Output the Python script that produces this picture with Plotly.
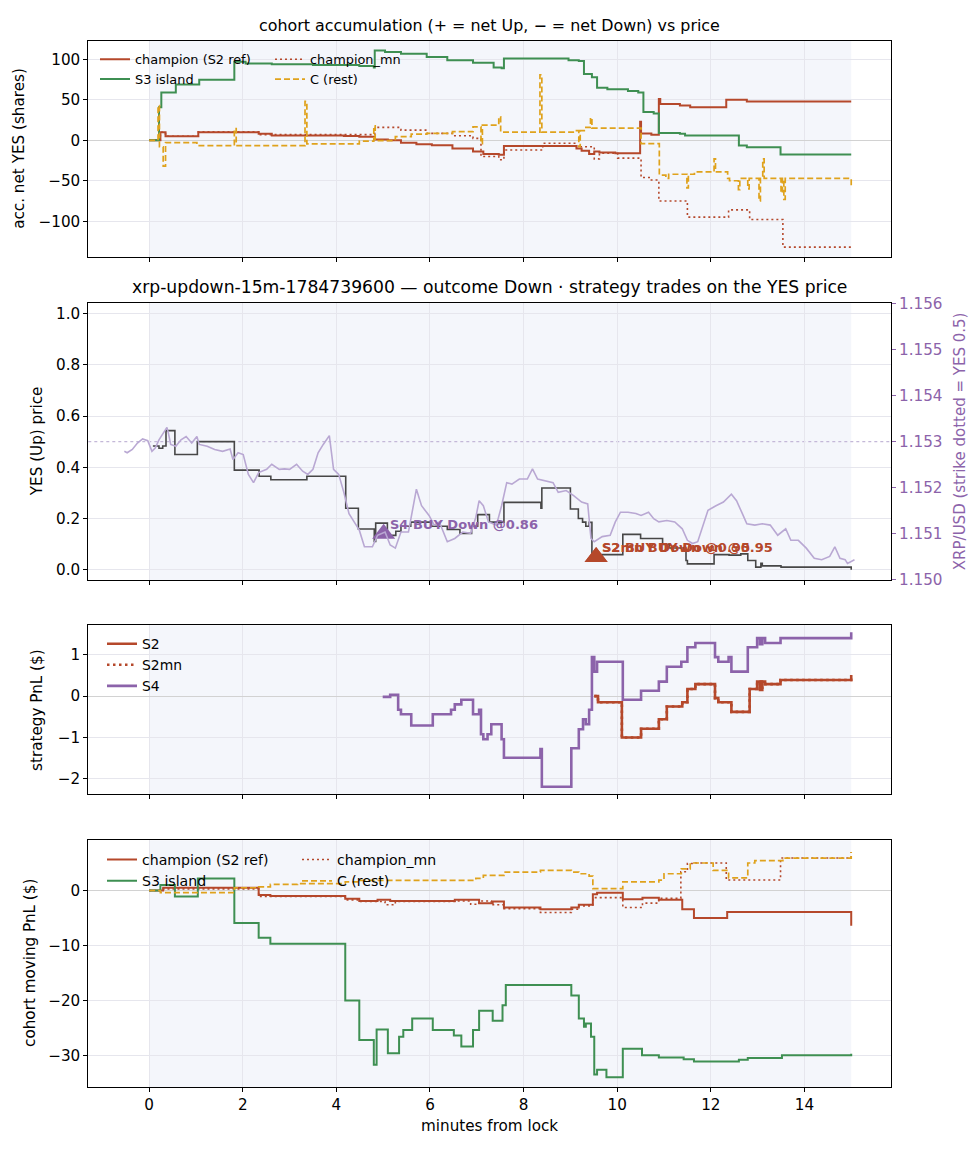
import plotly.graph_objects as go

### keep the data up here: minutes from lock + value (step series) ###

# panel 1: accumulated net YES shares per cohort
acc_champ_t = [0, 0.24, 0.35, 1.05, 2.34, 2.62, 4.16, 4.49, 4.82, 5.10, 5.38, 5.71, 6.04, 6.48, 6.92, 7.14, 7.47,
               7.58, 9.13, 9.24, 9.40, 9.51, 9.62, 9.96, 10.49, 10.51, 10.73, 10.89, 10.92, 11.34, 11.56, 12.33,
               12.77, 15.0]
acc_champ = [0, 10, 5, 10, 8, 6, 5.3, 4.5, 1, 0, -3, -5, -6, -10, -14, -17, -18,
             -7, -10, -13, -17, -14, -15, -16, 23, 8.5, 7, 51, 45, 43, 41, 50,
             48, 48]

acc_mn_t = [0, 0.24, 0.35, 1.05, 2.34, 4.82, 5.38, 5.93, 6.48, 6.92, 7.09, 7.47, 7.58, 8.41, 9.13, 9.51, 9.62,
            10.01, 10.51, 10.73, 10.89, 11.50, 12.38, 12.83, 13.54, 15.0]
acc_mn = [0, 10, 5, 10.6, 7, 16, 12.6, 8.5, 5.7, 2.4, -20, -24, -12, -3.7, -8, -23, -16,
          -22, -46, -49, -75, -95, -86, -98, -132, -132]

acc_s3_t = [0, 0.21, 0.26, 0.57, 1.07, 1.82, 2.06, 2.62, 3.5, 4.49, 4.80, 4.82, 5.04, 5.38, 5.93, 6.37, 6.92,
            7.36, 7.53, 7.58, 8.96, 9.18, 9.29, 9.46, 9.57, 9.79, 10.23, 10.45, 10.56, 10.78, 10.89, 11.34,
            11.45, 12.60, 12.77, 13.49, 15.0]
acc_s3 = [0, 41, 59, 69, 75, 97, 95, 94, 93, 92, 90, 111, 109, 107, 103, 99, 96,
          90, 89, 101, 99, 98, 82, 78, 65, 63, 61, 59, 35, 33, 9, 8,
          6, -6.5, -8.5, -17.5, -17.5]

acc_c_t = [0, 0.19, 0.22, 0.30, 0.35, 1.02, 1.82, 1.86, 3.33, 3.37, 4.49, 4.80, 4.83, 5.26, 5.60, 5.93, 6.48,
           6.92, 7.09, 7.12, 7.47, 7.51, 8.35, 8.39, 9.13, 9.18, 9.21, 9.33, 9.43, 9.46, 10.51, 10.90, 11.04,
           11.10, 11.49, 11.52, 11.65, 12.07, 12.10, 12.36, 12.40, 12.59, 12.62, 12.79, 12.82, 13.03, 13.06,
           13.11, 13.14, 13.50, 13.53, 13.56, 13.59, 15.0]
acc_c = [0, 43, -8, -32, -3, -6.5, 14.6, -6.5, 48, -4.5, -1, 18, -0.4, 4.5, 7.7, 8.5, 10.6,
         16.7, -4, 18.7, 29, 10, 81, 10, 12, -8, 12, 16, 28, 15, -4, -43, -47,
         -42, -59, -42, -39, -23, -39, -47, -50, -61, -47, -60, -47, -75, -47,
         -23, -47, -65, -47, -73, -47, -58]

# panel 2: YES (Up) price + XRP/USD spot
yes_t = [0.08, 0.21, 0.29, 0.36, 0.55, 1.03, 1.82, 2.35, 2.60, 3.37, 4.20, 4.47, 4.81, 4.84, 5.09, 5.27, 5.38,
         5.59, 6.03, 6.37, 6.64, 6.89, 7.02, 7.27, 7.58, 8.37, 8.39, 9.00, 9.17, 9.26, 9.33, 9.40, 9.46, 10.12,
         10.50, 10.97, 11.11, 11.47, 11.50, 12.07, 12.39, 12.64, 12.79, 12.96, 13.07, 13.10, 13.50, 15.0]
yes_px = [0.483, 0.474, 0.483, 0.543, 0.45, 0.50, 0.389, 0.365, 0.351, 0.365, 0.24, 0.159, 0.11, 0.182, 0.134,
          0.15, 0.17, 0.186, 0.17, 0.157, 0.142, 0.17, 0.215, 0.186, 0.263, 0.24, 0.319, 0.237, 0.2, 0.186,
          0.17, 0.185, 0.059, 0.138, 0.122, 0.099, 0.085, 0.036, 0.023, 0.059, 0.057, 0.062, 0.036, 0.01,
          0.025, 0.015, 0.01, 0.0]

xrp_t = [-0.53, -0.47, -0.36, -0.25, -0.14, -0.03, 0.06, 0.13, 0.21, 0.30, 0.38, 0.41, 0.46, 0.57, 0.68, 0.79,
         0.91, 1.02, 1.07, 1.24, 1.40, 1.57, 1.73, 1.79, 1.90, 2.01, 2.12, 2.23, 2.34, 2.51, 2.62, 2.78, 2.89,
         3.00, 3.15, 3.28, 3.39, 3.50, 3.61, 3.72, 3.85, 3.94, 4.05, 4.16, 4.27, 4.38, 4.49, 4.60, 4.77, 4.88,
         5.04, 5.15, 5.26, 5.38, 5.54, 5.71, 5.82, 5.98, 6.09, 6.20, 6.37, 6.53, 6.70, 6.87, 6.98, 7.05, 7.14,
         7.25, 7.42, 7.53, 7.64, 7.75, 7.91, 8.08, 8.19, 8.30, 8.47, 8.63, 8.74, 8.91, 9.07, 9.24, 9.37, 9.44,
         9.51, 9.68, 9.85, 9.96, 10.07, 10.23, 10.40, 10.51, 10.67, 10.78, 10.89, 11.06, 11.23, 11.39, 11.50,
         11.61, 11.72, 11.83, 11.94, 12.11, 12.27, 12.44, 12.55, 12.66, 12.77, 12.94, 13.10, 13.27, 13.43,
         13.60, 13.71, 13.87, 14.04, 14.21, 14.37, 14.54, 14.65, 14.76, 14.87, 14.92, 15.07]
xrp_usd = [1.15279, 1.15276, 1.15283, 1.15297, 1.15306, 1.15302, 1.15279, 1.15286, 1.15304, 1.15319, 1.15331,
           1.15319, 1.15294, 1.15290, 1.15304, 1.15311, 1.15297, 1.15311, 1.15294, 1.15290, 1.15283, 1.15279,
           1.15284, 1.15261, 1.15276, 1.15272, 1.15229, 1.15211, 1.15233, 1.15240, 1.15251, 1.15240, 1.15241,
           1.15240, 1.15251, 1.15236, 1.15229, 1.15240, 1.15276, 1.15294, 1.15313, 1.15240, 1.15229, 1.15190,
           1.15144, 1.15126, 1.15108, 1.15072, 1.15072, 1.15097, 1.15104, 1.15076, 1.15069, 1.15104, 1.15104,
           1.15197, 1.15161, 1.15140, 1.15119, 1.15126, 1.15083, 1.15090, 1.15104, 1.15101, 1.15136, 1.15172,
           1.15161, 1.15126, 1.15119, 1.15161, 1.15211, 1.15208, 1.15219, 1.15219, 1.15241, 1.15219, 1.15215,
           1.15211, 1.15190, 1.15194, 1.15183, 1.15169, 1.15165, 1.15090, 1.15083, 1.15094, 1.15097, 1.15126,
           1.15147, 1.15147, 1.15144, 1.15140, 1.15147, 1.15133, 1.15126, 1.15129, 1.15126, 1.15111, 1.15086,
           1.15079, 1.15083, 1.15119, 1.15151, 1.15161, 1.15169, 1.15186, 1.15172, 1.15147, 1.15122, 1.15119,
           1.15122, 1.15119, 1.15097, 1.15111, 1.15086, 1.15086, 1.15069, 1.15047, 1.15044, 1.15051, 1.15072,
           1.15047, 1.15044, 1.15036, 1.15044]
strike_usd = 1.153      # strike is drawn where YES = 0.5
strike_yes = 0.5

# strategy entries (YES price = 1 - Down price)
trade_names = ["S4", "S2", "S2mn"]
trade_t = [5.01, 9.55, 9.55]
trade_yes = [0.14, 0.05, 0.05]
trade_labels = ["S4 BUY Down @0.86", "S2 BUY Down @0.95", "S2mn BUY Down @0.95"]

# panel 3: strategy PnL ($)
pnl_s2_t = [9.51, 9.59, 10.10, 10.51, 10.89, 11.06, 11.39, 11.50, 11.67, 12.09, 12.16, 12.44, 12.83, 12.99, 13.05,
            13.10, 13.16, 13.49, 15.0]
pnl_s2 = [0, -0.15, -1.0, -0.79, -0.56, -0.25, -0.15, 0.17, 0.29, -0.05, -0.15, -0.38, 0.17, 0.35, 0.15,
          0.35, 0.29, 0.39, 0.51]
pnl_s2mn_t = pnl_s2_t          # S2mn sits right under S2
pnl_s2mn = pnl_s2
pnl_s4_t = [4.99, 5.15, 5.32, 5.38, 5.60, 6.06, 6.45, 6.53, 6.67, 6.92, 7.05, 7.09, 7.14, 7.23, 7.31, 7.53, 7.58,
            8.36, 8.39, 9.02, 9.18, 9.27, 9.33, 9.40, 9.46, 9.51, 9.57, 10.12, 10.51, 10.89, 11.06, 11.37,
            11.50, 11.67, 12.09, 12.16, 12.38, 12.44, 12.79, 12.99, 13.05, 13.10, 13.16, 13.49, 15.0]
pnl_s4 = [-0.02, 0.03, -0.33, -0.44, -0.71, -0.44, -0.33, -0.2, -0.09, -0.44, -0.33, -0.92, -1.04, -0.92, -0.68,
          -1.04, -1.49, -1.28, -2.19, -1.26, -0.8, -0.56, -0.68, -0.33, 0.94, 0.59, 0.83, -0.09, 0.13, 0.35,
          0.71, 0.83, 1.18, 1.28, 0.94, 0.83, 0.94, 0.59, 1.18, 1.4, 1.25, 1.4, 1.28, 1.4, 1.54]

# panel 4: cohort moving PnL ($)
mpnl_champ_t = [0, 0.30, 2.34, 2.59, 4.19, 4.49, 4.88, 5.15, 6.53, 7.05, 7.34, 7.58, 8.36, 9.02, 9.18, 9.48,
                9.57, 10.12, 10.54, 10.89, 11.39, 11.64, 12.35, 15.0]
mpnl_champ = [0, 0.5, -0.8, -1.0, -1.5, -1.9, -1.7, -1.9, -1.7, -2.3, -2.0, -3.1, -3.4, -3.1, -2.6, -0.7,
              -0.4, -1.6, -1.3, -1.7, -3.4, -5.0, -3.9, -6.4]
mpnl_mn_t = [0, 0.30, 2.34, 4.19, 4.49, 5.04, 5.26, 6.53, 6.87, 7.05, 7.31, 7.58, 8.36, 9.02, 9.18, 9.48, 10.12,
             10.54, 10.89, 11.36, 11.50, 11.67, 12.33, 13.49, 15.0]
mpnl_mn = [0, 0.3, -1.1, -1.7, -2.0, -2.6, -2.0, -1.9, -2.5, -1.9, -2.6, -3.3, -4.0, -3.4, -2.8, -1.3, -3.1,
           -2.3, -1.4, 3.4, 4.9, 5.0, 1.9, 5.9, 7.0]
mpnl_s3_t = [0, 0.24, 0.55, 1.04, 1.82, 2.34, 2.59, 4.19, 4.49, 4.80, 4.86, 5.10, 5.34, 5.43, 5.62, 6.06, 6.51,
             6.67, 6.92, 7.05, 7.34, 7.55, 7.62, 9.02, 9.18, 9.29, 9.33, 9.44, 9.51, 9.57, 9.77, 10.12, 10.53,
             10.89, 11.42, 11.64, 12.60, 12.79, 13.52, 15.0]
mpnl_s3 = [0, 1, -1.1, 2.2, -5.9, -8.6, -9.7, -20, -27.2, -31.7, -25.3, -29.6, -26.6, -25.4, -23.3, -25.4, -26.4,
           -28.4, -25.4, -21.9, -23.7, -20.9, -17.2, -19.1, -23.3, -24.8, -24.2, -26.6, -33.5, -32.6, -34, -28.8,
           -30, -30.4, -30.7, -31.1, -30.8, -30.5, -30, -29.7]
mpnl_c_t = [0, 0.24, 1.82, 2.34, 2.59, 3.17, 4.19, 4.49, 6.98, 7.14, 7.58, 8.36, 9.02, 9.18, 9.40, 9.48, 10.12,
            10.89, 11.00, 11.37, 11.56, 12.05, 12.38, 12.79, 12.94, 13.54, 15.0]
mpnl_c = [0, -0.4, 0.5, 0.65, 1.1, 1.25, 1.55, 1.85, 2.2, 2.75, 3.35, 3.65, 3.35, 3.05, 2.6, 0.35, 1.55,
          1.9, 3.05, 3.95, 5.0, 3.65, 2.3, 5.0, 5.45, 5.9, 7.0]

# colours
RED = "#b5482b"
GREEN = "#3e8f52"
GOLD = "#dfa21c"
PURPLE = "#8c63aa"
XRP_COL = "#b9a8d3"
FONT = "DejaVu Sans"
W, H = 978, 1156


def xpaper(px):
    # pixel column -> paper coordinate
    return px / W


def ypaper(py):
    # pixel row (from top) -> paper coordinate
    return 1 - py / H


def step(t, y, name, color, width, dash, n, legend, showlegend=True):
    return go.Scatter(x=t, y=y, mode="lines", name=name,
                      line=dict(shape="hv", color=color, width=width, dash=dash),
                      xaxis="x" if n == 1 else "x%d" % n, yaxis="y" if n == 1 else "y%d" % n,
                      legend=legend, showlegend=showlegend, hoverinfo="skip")


fig = go.Figure()

# panel 1 - accumulation
fig.add_trace(step(acc_champ_t, acc_champ, "champion (S2 ref)", RED, 2, "solid", 1, "legend"))
fig.add_trace(step(acc_mn_t, acc_mn, "champion_mn", RED, 1.6, "2px,3px", 1, "legend2"))
fig.add_trace(step(acc_s3_t, acc_s3, "S3 island", GREEN, 2, "solid", 1, "legend"))
fig.add_trace(step(acc_c_t, acc_c, "C (rest)", GOLD, 1.7, "6px,3px", 1, "legend2"))

# panel 2 - price + XRP spot on the right axis
fig.add_trace(go.Scatter(x=xrp_t, y=xrp_usd, mode="lines", line=dict(color=XRP_COL, width=1.6),
                         xaxis="x2", yaxis="y5", showlegend=False, hoverinfo="skip"))
fig.add_trace(go.Scatter(x=yes_t, y=yes_px, mode="lines", line=dict(shape="hv", color="#474747", width=1.6),
                         xaxis="x2", yaxis="y2", showlegend=False, hoverinfo="skip"))
trade_cols = [PURPLE, RED, RED]
fig.add_trace(go.Scatter(x=trade_t, y=trade_yes, mode="markers", text=trade_names,
                         marker=dict(symbol="triangle-up", size=20, color=trade_cols),
                         xaxis="x2", yaxis="y2", showlegend=False, hoverinfo="skip"))

# panel 3 - strategy PnL
fig.add_trace(step(pnl_s2_t, pnl_s2, "S2", RED, 2.6, "solid", 3, "legend3"))
fig.add_trace(step(pnl_s2mn_t, pnl_s2mn, "S2mn", RED, 2.6, "2.5px,3.5px", 3, "legend3"))
fig.add_trace(step(pnl_s4_t, pnl_s4, "S4", PURPLE, 2.6, "solid", 3, "legend3"))

# panel 4 - cohort moving PnL
fig.add_trace(step(mpnl_champ_t, mpnl_champ, "champion (S2 ref)", RED, 2, "solid", 4, "legend4"))
fig.add_trace(step(mpnl_mn_t, mpnl_mn, "champion_mn", RED, 1.6, "2px,3px", 4, "legend5"))
fig.add_trace(step(mpnl_s3_t, mpnl_s3, "S3 island", GREEN, 2, "solid", 4, "legend4"))
fig.add_trace(step(mpnl_c_t, mpnl_c, "C (rest)", GOLD, 1.7, "6px,3px", 4, "legend5"))

# axes --------------------------------------------------------------
xdom = [xpaper(88.3), xpaper(891)]
base = dict(showline=True, linecolor="black", linewidth=1, mirror=True, ticks="outside", ticklen=4,
            tickwidth=1, tickcolor="black", showgrid=True, gridcolor="#e6e6ed", gridwidth=0.8,
            zeroline=False, tickfont=dict(size=15.2, color="black"))
panels = {1: (32.3, 251.7), 2: (299, 580), 3: (626, 797.7), 4: (844.3, 1095)}
for n, (top, bot) in panels.items():
    sx = "" if n == 1 else str(n)
    fig.layout["xaxis" + sx] = dict(base, domain=xdom, anchor="y" + sx, range=[-1.3, 15.85],
                                    tick0=0, dtick=2, showticklabels=(n == 4))
    fig.layout["yaxis" + sx] = dict(base, domain=[ypaper(bot), ypaper(top)], anchor="x" + sx)

fig.layout.yaxis.update(range=[-144, 123], tickvals=[-100, -50, 0, 50, 100],
                        zeroline=True, zerolinecolor="#d2d2d2", zerolinewidth=1.2)
fig.layout.yaxis2.update(range=[-0.04, 1.04], dtick=0.2, tickformat=".1f")
fig.layout.yaxis3.update(range=[-2.37, 1.71], dtick=1,
                         zeroline=True, zerolinecolor="#d2d2d2", zerolinewidth=1.2)
fig.layout.yaxis4.update(range=[-35.75, 9.16], dtick=10,
                         zeroline=True, zerolinecolor="#d2d2d2", zerolinewidth=1.2)
fig.layout.yaxis5 = dict(overlaying="y2", side="right", anchor="x2", range=[1.150, 1.156], dtick=0.001,
                         tickformat=".3f", showgrid=False, zeroline=False, showline=False,
                         ticks="outside", ticklen=4, tickcolor=PURPLE,
                         tickfont=dict(size=15.2, color=PURPLE))

# shaded lock window (0..15 min) + strike line
shapes = []
for n in range(1, 5):
    sx = "" if n == 1 else str(n)
    shapes.append(dict(type="rect", xref="x" + sx, yref="y" + sx + " domain", x0=0, x1=15, y0=0, y1=1,
                       fillcolor="#f4f6fb", line=dict(width=0), layer="below"))
shapes.append(dict(type="line", xref="x2 domain", yref="y2", x0=0, x1=1, y0=strike_yes, y1=strike_yes,
                   line=dict(color="#c4b8d8", width=1.2, dash="dot"), layer="below"))

# text: titles, axis labels, trade labels
ann = []
xmid = (xdom[0] + xdom[1]) / 2
ann.append(dict(text="cohort accumulation (+ = net Up, \u2212 = net Down) vs price", x=xmid, y=ypaper(17),
                font=dict(size=15.9)))
ann.append(dict(text="xrp-updown-15m-1784739600 \u2014 outcome Down \u00b7 strategy trades on the YES price",
                x=xmid, y=ypaper(282), font=dict(size=17.2)))
ann.append(dict(text="minutes from lock", x=xmid, y=ypaper(1135), font=dict(size=15.2)))
ylabels = [("acc. net YES (shares)", 19, 142), ("YES (Up) price", 37, 439), ("strategy PnL ($)", 37, 712),
           ("cohort moving PnL ($)", 30, 969)]
for txt, px, py in ylabels:
    ann.append(dict(text=txt, x=xpaper(px), y=ypaper(py), textangle=-90, font=dict(size=15.2)))
ann.append(dict(text="XRP/USD (strike dotted = YES 0.5)", x=xpaper(960), y=ypaper(439), textangle=-90,
                font=dict(size=15, color=PURPLE)))
for a in ann:
    a.update(xref="paper", yref="paper", showarrow=False, xanchor="center", yanchor="middle")
    a["font"].setdefault("color", "black")

# trade labels sit just to the right of their markers
for t, yv, lab, col in zip(trade_t, trade_yes, trade_labels, trade_cols):
    ann.append(dict(text="<b>%s</b>" % lab, x=t, y=yv, xref="x2", yref="y2", showarrow=False,
                    xanchor="left", yanchor="middle", xshift=4, yshift=9,
                    font=dict(size=13, color=col)))

leg = dict(bgcolor="rgba(0,0,0,0)", borderwidth=0, xanchor="left", yanchor="top", orientation="v",
           itemwidth=30)
fig.update_layout(
    width=W, height=H, margin=dict(l=0, r=0, t=0, b=0),
    paper_bgcolor="white", plot_bgcolor="white",
    font=dict(family=FONT, size=15, color="black"),
    shapes=shapes, annotations=ann, hovermode=False,
    legend=dict(leg, x=xpaper(95), y=ypaper(36), font=dict(size=12.9)),
    legend2=dict(leg, x=xpaper(270), y=ypaper(36), font=dict(size=12.9)),
    legend3=dict(leg, x=xpaper(102), y=ypaper(629), font=dict(size=13.9)),
    legend4=dict(leg, x=xpaper(102), y=ypaper(848), font=dict(size=14.1)),
    legend5=dict(leg, x=xpaper(297), y=ypaper(848), font=dict(size=14.1)),
)

# the page body has a default 8px margin; drop it so the figure sits flush in the window
fig.write_html("out.html", config={"displayModeBar": False},
               post_script="document.body.style.margin='0px';")
